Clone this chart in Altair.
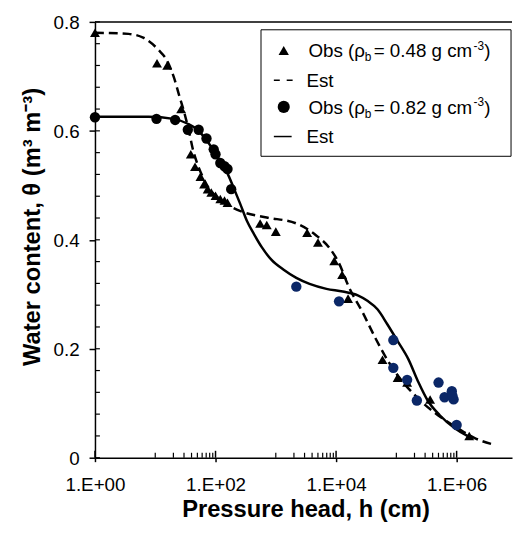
import altair as alt
import pandas as pd

FONT = "Liberation Sans"
W, H = 422, 441

# ---- data ----
tri_h = [1, 10.7, 15.8, 26.9, 38.9, 45.7, 56.2, 64.6, 74.1, 85.1, 100, 120, 141, 158,
         550, 708, 1000, 3310, 5010, 9330, 12600, 15800, 58900, 105000, 151000, 363000, 1620000]
tri_theta = [0.780, 0.724, 0.720, 0.640, 0.557, 0.534, 0.516, 0.502, 0.493, 0.487, 0.481, 0.475, 0.472, 0.468,
             0.430, 0.427, 0.415, 0.413, 0.395, 0.361, 0.336, 0.292, 0.180, 0.147, 0.138, 0.107, 0.040]

circ_black_h = [1, 10.5, 21.4, 34.7, 52.5, 70.8, 93.3, 100, 120, 141, 158, 182]
circ_black_theta = [0.625, 0.622, 0.620, 0.602, 0.602, 0.586, 0.566, 0.557, 0.541, 0.535, 0.530, 0.493]

circ_blue_h = [2190, 11200, 89100, 89100, 151000, 219000, 501000, 631000, 832000, 891000, 851000, 1000000]
circ_blue_theta = [0.314, 0.287, 0.216, 0.165, 0.143, 0.105, 0.138, 0.111, 0.122, 0.107, 0.114, 0.060]

est048_h = [1, 3.6, 6.3, 11.2, 16.2, 20.4, 24.5, 30.9, 36.3, 41.7, 50.1, 61.7, 79.4, 117, 178, 302, 708,
            2190, 4680, 7760, 11200, 16200, 27500, 45700, 74100, 126000, 229000, 490000, 1050000, 2000000, 4170000]
est048_theta = [0.780, 0.778, 0.771, 0.749, 0.726, 0.698, 0.668, 0.630, 0.599, 0.568, 0.539, 0.515, 0.493, 0.475,
                0.461, 0.450, 0.441, 0.430, 0.408, 0.385, 0.357, 0.314, 0.267, 0.218, 0.176, 0.140, 0.109,
                0.078, 0.054, 0.036, 0.024]

est082_h = [1, 7.8, 20, 34.7, 50.1, 74.1, 107, 158, 204, 257, 331, 437, 589, 851, 1350, 2190, 3630, 6920,
            12900, 22900, 33100, 49000, 70800, 105000, 158000, 229000, 331000, 525000, 933000, 1510000, 1820000]
est082_theta = [0.626, 0.626, 0.622, 0.613, 0.602, 0.580, 0.553, 0.522, 0.493, 0.466, 0.435, 0.410, 0.386,
                0.363, 0.345, 0.330, 0.319, 0.310, 0.305, 0.298, 0.288, 0.272, 0.245, 0.214, 0.181, 0.140,
                0.105, 0.078, 0.054, 0.040, 0.036]

x_major = [1, 100, 10000, 1000000]
x_minor = [10, 20, 30, 40, 50, 60, 70, 80, 90,
           1000, 2000, 3000, 4000, 5000, 6000, 7000, 8000, 9000,
           100000, 200000, 300000, 400000, 500000, 600000, 700000, 800000, 900000]
y_major = [0, 0.2, 0.4, 0.6, 0.8]
y_minor = [0.04, 0.08, 0.12, 0.16, 0.24, 0.28, 0.32, 0.36, 0.44, 0.48, 0.52, 0.56,
           0.64, 0.68, 0.72, 0.76]

# ---- scales ----
xs = alt.Scale(type="log", domain=[1, 8.3e6], nice=False)
ys = alt.Scale(domain=[0, 0.8], nice=False)

x_axis = alt.Axis(values=x_major, labelExpr="'1.E+0' + round(log(datum.value)/LN10)",
                  title="Pressure head, h (cm)", grid=False, tickSize=4, tickWidth=1.5,
                  tickColor="black", domainColor="black", domainWidth=1.5,
                  labelFont=FONT, labelFontSize=19, labelColor="black",
                  labelBaseline="alphabetic", labelPadding=29, labelFlush=False,
                  labelOverlap=False,
                  titleFont=FONT, titleFontSize=24, titleFontWeight="bold", titleColor="black",
                  titleBaseline="alphabetic", titleY=59, titleX=213)
y_axis = alt.Axis(values=y_major, labelExpr="datum.value == 0 ? '0' : format(datum.value, '.1f')",
                  title="Water content, θ  (m³ m⁻³)", grid=False, tickSize=6, tickWidth=1.5,
                  tickColor="black", domainColor="black", domainWidth=1.5,
                  labelFont=FONT, labelFontSize=19, labelColor="black", labelPadding=10,
                  labelBaseline="middle", labelOffset=1, labelFlush=False, labelOverlap=False,
                  titleFont=FONT, titleFontSize=24, titleFontWeight="bold", titleColor="black",
                  titleAngle=-90, titleBaseline="middle", titleAlign="center",
                  titleX=-63, titleY=207)

df_tri = pd.DataFrame({"h": tri_h, "theta": tri_theta})
df_cb = pd.DataFrame({"h": circ_black_h, "theta": circ_black_theta})
df_cu = pd.DataFrame({"h": circ_blue_h, "theta": circ_blue_theta})
df_e1 = pd.DataFrame({"h": est048_h, "theta": est048_theta})
df_e2 = pd.DataFrame({"h": est082_h, "theta": est082_theta})

X = alt.X("h:Q", scale=xs, axis=x_axis)
Y = alt.Y("theta:Q", scale=ys, axis=y_axis)

line1 = alt.Chart(df_e1).mark_line(color="black", strokeWidth=2.5, strokeDash=[9, 5],
                                   interpolate="monotone").encode(x=X, y=Y)
line2 = alt.Chart(df_e2).mark_line(color="black", strokeWidth=2.5,
                                   interpolate="monotone").encode(x=X, y=Y)
tri = alt.Chart(df_tri).mark_point(shape="triangle-up", filled=True, color="black", size=100,
                                   opacity=1).encode(x=X, y=Y)
cb = alt.Chart(df_cb).mark_circle(color="black", size=110, opacity=1).encode(x=X, y=Y)
cu = alt.Chart(df_cu).mark_circle(color="#0b2767", size=110, opacity=1).encode(x=X, y=Y)

# inner ticks
xmin_t = alt.Chart(pd.DataFrame({"h": x_minor})).mark_rule(color="black", strokeWidth=1.2).encode(
    x=X, y=alt.value(H), y2=alt.value(H - 5))
xmaj_t = alt.Chart(pd.DataFrame({"h": x_major})).mark_rule(color="black", strokeWidth=1.5).encode(
    x=X, y=alt.value(H), y2=alt.value(H - 7))
ymin_t = alt.Chart(pd.DataFrame({"theta": y_minor + y_major})).mark_rule(color="black", strokeWidth=1.2).encode(
    y=Y, x=alt.value(0), x2=alt.value(5))
top_rule = alt.Chart(pd.DataFrame({"a": [0]})).mark_rule(color="black", strokeWidth=1.5).encode(
    x=alt.value(0), x2=alt.value(W), y=alt.value(0))

# legend
one = pd.DataFrame({"a": [0]})
leg_box = alt.Chart(one).mark_rect(fill="white", stroke="black", strokeWidth=1).encode(
    x=alt.value(168), x2=alt.value(421), y=alt.value(8), y2=alt.value(136))
leg_tri = alt.Chart(one).mark_point(shape="triangle-up", filled=True, color="black", size=110,
                                    opacity=1).encode(x=alt.value(191), y=alt.value(29))
leg_circ = alt.Chart(one).mark_circle(color="black", size=150, opacity=1).encode(
    x=alt.value(191), y=alt.value(86))
leg_dash = alt.Chart(one).mark_rule(color="black", strokeWidth=1.5, strokeDash=[6, 7]).encode(
    x=alt.value(181), x2=alt.value(201), y=alt.value(59))
leg_solid = alt.Chart(one).mark_rule(color="black", strokeWidth=1.5).encode(
    x=alt.value(181), x2=alt.value(199), y=alt.value(116))


def txt(s, x, y, size=19):
    return alt.Chart(one).mark_text(text=s, font=FONT, fontSize=size, color="black",
                                    align="left", baseline="alphabetic").encode(
        x=alt.value(x), y=alt.value(y))


def obs_label(dens, yc):
    x0 = 216
    parts = [
        txt("Obs (ρ", x0, yc + 7),
        txt("b", x0 + 57.0, yc + 11, 12),
        txt(" = " + dens + " g cm", x0 + 66.0, yc + 7),
        txt("-3", x0 + 167.0, yc - 1, 12),
        txt(")", x0 + 178.0, yc + 7),
    ]
    return parts


legend_layers = [leg_box, leg_tri, leg_circ, leg_dash, leg_solid] + obs_label("0.48", 29) + \
    obs_label("0.82", 86) + [txt("Est", 214, 59 + 7), txt("Est", 214, 116 + 7)]

chart = alt.layer(xmin_t, xmaj_t, ymin_t, top_rule, line1, line2, tri, cb, cu,
                  *legend_layers).properties(
    width=W, height=H,
    autosize=alt.AutoSizeParams(type="none"),
    padding={"left": 88, "top": 11, "right": 2, "bottom": 63},
    background="white",
).configure_view(stroke=None)

chart.save("out.html", embed_options={"renderer": "svg", "actions": False})
